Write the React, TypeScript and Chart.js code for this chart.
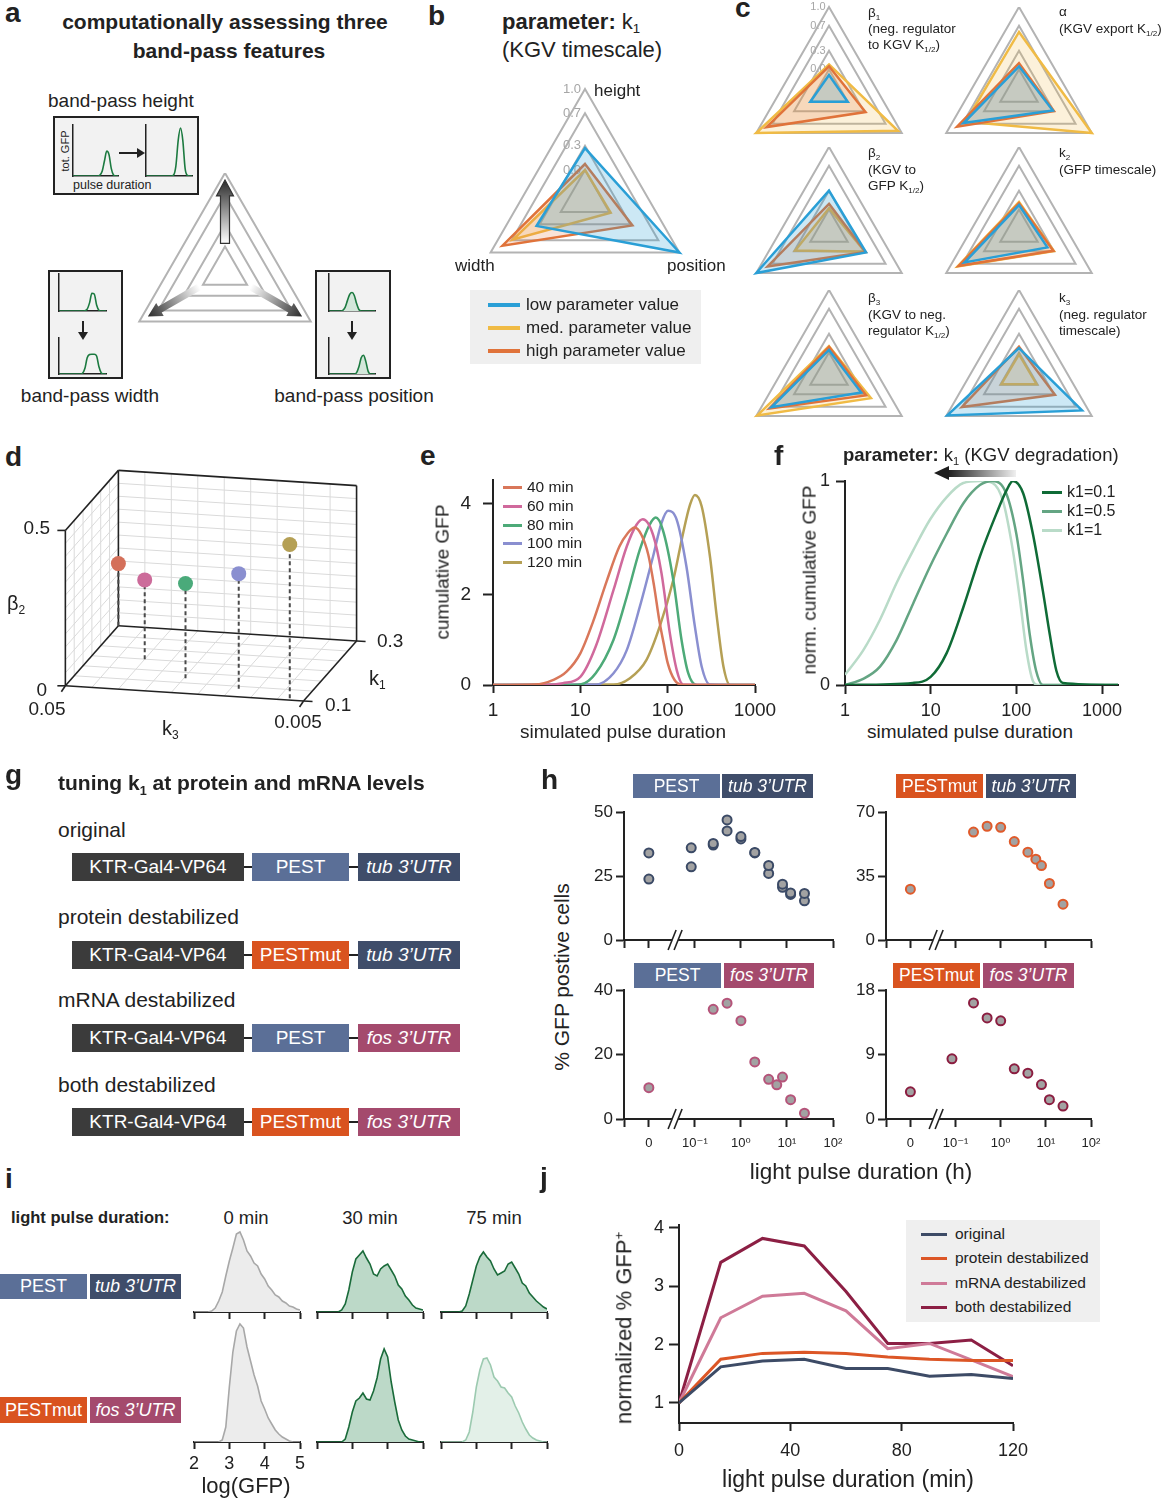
import React, { useEffect, useRef } from 'react';
import { Chart, registerables } from 'chart.js';

Chart.register(...registerables);

const FONT = "'Liberation Sans', Arial, Helvetica, 'DejaVu Sans', sans-serif";
Chart.defaults.font.family = FONT;
Chart.defaults.color = '#222';

/* ================= DATA ================= */
// panel a – mini band-pass sketches
const MINI_X = [0, 0.5, 1, 1.5, 2, 2.5, 3, 3.5, 4, 4.5, 5, 5.5, 6, 6.5, 7, 7.5, 8, 8.5, 9, 9.5, 10];
const MINI_HEIGHT_LOW = [0, 0, 0, 0, 0, 0, 0, 0, 0, 0, 0, 0, 0.02, 0.1, 0.3, 0.49, 0.42, 0.15, 0.02, 0, 0];
const MINI_HEIGHT_HIGH = [0, 0, 0, 0, 0, 0, 0, 0, 0, 0, 0, 0, 0.02, 0.2, 0.7, 0.94, 0.7, 0.15, 0.01, 0, 0];
const MINI_WIDTH_NARROW = [0, 0, 0, 0, 0, 0, 0, 0, 0, 0, 0, 0.01, 0.05, 0.22, 0.48, 0.46, 0.16, 0.02, 0, 0, 0];
const MINI_WIDTH_WIDE = [0, 0, 0, 0, 0, 0, 0, 0, 0, 0, 0.02, 0.15, 0.45, 0.54, 0.55, 0.55, 0.5, 0.2, 0.03, 0, 0];
const MINI_POS_EARLY = [0, 0, 0, 0, 0, 0, 0.02, 0.1, 0.28, 0.45, 0.5, 0.42, 0.2, 0.04, 0, 0, 0, 0, 0, 0, 0];
const MINI_POS_LATE = [0, 0, 0, 0, 0, 0, 0, 0, 0, 0, 0, 0, 0.04, 0.2, 0.45, 0.52, 0.35, 0.08, 0, 0, 0];

// radar panels (axes order: height, position, width)
const RADAR_AXES = ['height', 'position', 'width'];
const RADAR_TICKS = [0, 0.3, 0.7, 1.0];
const B_LOW = [0.27, 1.0, 0.345];
const B_MED = [0.0, 0.02, 0.68];
const B_HIGH = [0.074, 0.33, 0.83];
const BETA1_LOW = [-0.09, 0.0, 0.0];
const BETA1_MED = [0.08, 0.93, 1.0];
const BETA1_HIGH = [0.05, 0.33, 0.81];
const ALPHA_LOW = [0.05, 0.28, 0.68];
const ALPHA_MED = [0.6, 1.0, 0.64];
const ALPHA_HIGH = [0.1, 0.3, 0.8];
const BETA2_LOW = [0.3, 0.34, 1.0];
const BETA2_MED = [0.02, 0.32, 0.28];
const BETA2_HIGH = [0.09, 0.33, 0.79];
const K2_LOW = [0.07, 0.18, 0.66];
const K2_MED = [0.12, 0.3, 0.79];
const K2_HIGH = [0.1, 0.29, 0.77];
const BETA3_LOW = [0.04, 0.25, 0.72];
const BETA3_MED = [0.1, 0.43, 0.98];
const BETA3_HIGH = [0.09, 0.34, 0.76];
const K3_LOW = [0.07, 0.82, 0.98];
const K3_MED = [-0.03, -0.02, -0.02];
const K3_HIGH = [0.09, 0.32, 0.71];

// panel d – 3D stem plot
const D_K3 = [0.05, 0.03, 0.0177, 0.01, 0.0058];
const D_K1 = [0.3, 0.2, 0.148, 0.126, 0.106];
const D_BETA2 = [0.2, 0.255, 0.305, 0.37, 0.495];
const D_COLORS = ['#d4705a', '#cc6b9a', '#4aaa7a', '#8a8fd0', '#b5a055'];

// panel e
const E_LABELS = ['40 min', '60 min', '80 min', '100 min', '120 min'];
const E_COLORS = ['#d9775a', '#d0699c', '#4daa78', '#8a8fd0', '#b5a055'];
const E_X40 = [1, 3, 5, 7, 10, 14, 20, 28, 35, 42, 50, 60, 70, 80, 90, 100, 120, 150, 1000];
const E_Y40 = [0, 0.01, 0.12, 0.3, 0.7, 1.4, 2.29, 3.06, 3.36, 3.48, 3.32, 2.88, 2.18, 1.44, 0.92, 0.49, 0.11, 0, 0];
const E_X60 = [1, 4, 6.3, 10, 15, 24, 34, 44, 52, 68, 85, 106, 127, 150, 1000];
const E_Y60 = [0, 0, 0.04, 0.18, 0.85, 2.1, 3.06, 3.54, 3.66, 3.32, 2.47, 1.14, 0.33, 0.01, 0];
const E_X80 = [1, 7, 10, 15, 24, 34, 48, 62, 73, 88, 116, 144, 172, 215, 1000];
const E_Y80 = [0, 0, 0.01, 0.26, 1.0, 1.95, 2.99, 3.54, 3.7, 3.43, 2.32, 1.0, 0.26, 0, 0];
const E_X100 = [1, 15, 24, 34, 48, 68, 85, 101, 127, 164, 205, 245, 305, 1000];
const E_Y100 = [0, 0.01, 0.26, 0.77, 1.73, 2.84, 3.58, 3.85, 3.65, 2.62, 1.29, 0.41, 0.01, 0];
const E_X120 = [1, 24, 37, 57, 81, 116, 150, 180, 205, 245, 305, 365, 435, 520, 1000];
const E_Y120 = [0, 0.01, 0.15, 0.55, 1.29, 2.32, 3.35, 3.98, 4.2, 3.95, 2.84, 1.51, 0.41, 0, 0];

// panel f
const F_LABELS = ['k1=0.1', 'k1=0.5', 'k1=1'];
const F_COLORS = ['#0f6b36', '#64a583', '#b9dbc8'];
const F_X01 = [1, 6.2, 10, 15.3, 24, 37.5, 58.5, 76, 91, 120, 156, 204, 245, 293, 350, 1535];
const F_Y01 = [0, 0.01, 0.04, 0.155, 0.38, 0.63, 0.84, 0.95, 1.0, 0.94, 0.74, 0.46, 0.25, 0.07, 0.01, 0];
const F_X05 = [1, 1.63, 2.56, 4.0, 6.25, 9.8, 15.3, 24, 37.5, 53, 76, 100, 120, 143, 170, 204, 1535];
const F_Y05 = [0, 0.03, 0.09, 0.22, 0.4, 0.58, 0.74, 0.89, 0.98, 1.0, 0.94, 0.74, 0.51, 0.25, 0.07, 0, 0];
const F_X1 = [1, 1.63, 2.56, 4.0, 6.25, 9.8, 15.3, 24, 37.5, 53, 70, 91, 110, 131, 156, 180, 1535];
const F_Y1 = [0.05, 0.17, 0.32, 0.5, 0.66, 0.81, 0.92, 0.99, 1.0, 0.99, 0.9, 0.66, 0.42, 0.17, 0.02, 0, 0];

// panel h (pulse durations in hours, 0 = dark control)
const H_TICKS = [-2.54, -2, -1, 0, 1, 2];
const H_TICK_LABELS = ['', '0', '10\u207B\u00B9', '10\u2070', '10\u00B9', '10\u00B2'];
const H1_HOURS = [0, 0.0833, 0.25, 0.5, 1, 2, 4, 8, 12, 24];
const H1_REP_A = [34, 36, 37.7, 46.9, 40.4, 34.2, 29.1, 21.8, 18.4, 18.2];
const H1_REP_B = [23.8, 28.6, 37.1, 42.6, 39.5, 34.0, 26.0, 20.6, 17.8, 15.3];
const H2_HOURS = [0, 0.25, 0.5, 1, 2, 4, 6, 8, 12, 24];
const H2_VALUES = [27.8, 59, 62.2, 61.6, 53.8, 48, 44.2, 40.7, 30.9, 19.6];
const H3_HOURS = [0, 0.25, 0.5, 1, 2, 4, 6, 8, 12, 24];
const H3_VALUES = [9.7, 34, 35.9, 30.5, 17.7, 12.3, 10.6, 13, 6, 1.8];
const H4_HOURS = [0, 0.0833, 0.25, 0.5, 1, 2, 4, 8, 12, 24];
const H4_VALUES = [3.8, 8.4, 16.2, 14.1, 13.7, 7, 6.4, 4.8, 2.7, 1.8];

// panel i – histograms of log(GFP)
const HIST_X = [2.0, 2.1, 2.2, 2.3, 2.4, 2.5, 2.6, 2.7, 2.8, 2.9, 3.0, 3.1, 3.2, 3.3, 3.4, 3.5, 3.6, 3.7, 3.8, 3.9, 4.0, 4.1, 4.2, 4.3, 4.4, 4.5, 4.6, 4.7, 4.8, 4.9, 5.0];
const HIST_PEST_0 = [0, 0, 0, 0, 0, 1, 4, 11, 20, 36, 51, 64, 78, 80, 72, 61, 56, 49, 46, 38, 33, 26, 22, 17, 15, 11, 9, 6, 5, 3, 2];
const HIST_PEST_30 = [0, 0, 0, 0, 0, 0, 0, 2, 8, 22, 40, 53, 57, 61, 54, 48, 38, 36, 43, 46, 48, 42, 36, 27, 23, 16, 12, 7, 4, 3, 2];
const HIST_PEST_75 = [0, 0, 0, 0, 0, 0, 1, 6, 18, 32, 46, 55, 60, 55, 51, 43, 37, 39, 41, 48, 50, 44, 38, 29, 26, 19, 15, 11, 8, 5, 3];
const HIST_MUT_0 = [0, 0, 0, 0, 0, 0, 0, 0, 2, 15, 55, 90, 111, 118, 114, 95, 81, 67, 56, 41, 33, 24, 18, 12, 8, 5, 3, 1, 0, 0, 0];
const HIST_MUT_30 = [0, 0, 0, 0, 0, 0, 0, 0, 3, 15, 30, 41, 44, 49, 43, 42, 51, 64, 83, 93, 85, 60, 40, 22, 12, 6, 3, 2, 1, 0, 0];
const HIST_MUT_75 = [0, 0, 0, 0, 0, 0, 0, 2, 10, 30, 55, 72, 83, 84, 77, 65, 61, 55, 54, 49, 45, 36, 29, 20, 13, 7, 4, 2, 1, 0, 0];

// panel j
const J_X = [0, 15, 30, 45, 60, 75, 90, 105, 120];
const J_ORIGINAL = [1, 1.62, 1.72, 1.75, 1.59, 1.59, 1.46, 1.49, 1.42];
const J_PROTEIN = [1, 1.75, 1.85, 1.87, 1.85, 1.79, 1.75, 1.73, 1.73];
const J_MRNA = [1, 2.46, 2.83, 2.88, 2.58, 1.93, 2.02, 1.74, 1.45];
const J_BOTH = [1, 3.41, 3.82, 3.69, 2.91, 2.02, 2.02, 2.08, 1.64];
const J_LABELS = ['original', 'protein destabilized', 'mRNA destabilized', 'both destabilized'];
const J_COLORS = ['#3d4b66', '#dc5626', '#cf7a98', '#8c1f44'];

/* ================= COLOURS ================= */
const C_PEST = '#5b6f97';
const C_TUB = '#3f4d6a';
const C_MUT = '#d9531f';
const C_FOS = '#a44a6d';
const C_KTR = '#3b3b3b';
const BLUE = '#2a9fd6';
const YELLOW = '#f0bb45';
const ORANGE = '#e0733a';

/* ================= HELPERS ================= */
function base(extra: any) {
  return {
    responsive: false,
    animation: false,
    devicePixelRatio: 1,
    events: [],
    ...extra,
    plugins: { legend: { display: false }, tooltip: { enabled: false }, ...(extra.plugins || {}) },
  };
}

function cax(o: any) {
  return {
    type: o.type || 'linear',
    position: o.pos,
    min: o.min,
    max: o.max,
    afterBuildTicks: (s: any) => { s.ticks = o.ticks.map((v: number) => ({ value: v })); },
    afterFit: (s: any) => { if (o.pos === 'bottom') s.height = o.fix; else s.width = o.fix; },
    grid: { display: true, drawOnChartArea: false, drawTicks: true, tickLength: o.tl, tickWidth: 2, tickColor: '#222', color: '#222' },
    border: { display: true, color: '#222', width: 2 },
    ticks: {
      display: o.show !== false,
      padding: o.pad,
      color: '#222',
      font: { size: o.fs, family: FONT },
      autoSkip: false,
      maxRotation: 0,
      minRotation: 0,
      callback: (v: any, i: number) => (o.labels ? o.labels[i] : String(v)),
    },
  };
}

function Canvas({ x, y, w, h, cfg }: any) {
  const ref = useRef<HTMLCanvasElement | null>(null);
  useEffect(() => {
    const chart = new Chart(ref.current as HTMLCanvasElement, cfg());
    return () => chart.destroy();
  }, []);
  return <canvas ref={ref} width={w} height={h} style={{ position: 'absolute', left: x, top: y, width: w, height: h }} />;
}

const T = ({ x, y, s = 16, b = false, it = false, c = '#222', a = 'l', children }: any) => (
  <div
    style={{
      position: 'absolute', left: x, top: y - s * 0.6, fontSize: s, lineHeight: `${s * 1.2}px`,
      fontWeight: b ? 700 : 400, fontStyle: it ? 'italic' : 'normal', color: c, whiteSpace: 'nowrap',
      transform: a === 'c' ? 'translateX(-50%)' : a === 'r' ? 'translateX(-100%)' : undefined,
    }}
  >
    {children}
  </div>
);

const VT = ({ x, y, s = 18, children }: any) => (
  <div style={{ position: 'absolute', left: x, top: y, fontSize: s, lineHeight: `${s * 1.2}px`, whiteSpace: 'nowrap', transform: 'translate(-50%,-50%) rotate(-90deg)' }}>
    {children}
  </div>
);

const Sub = ({ children }: any) => <span style={{ fontSize: '0.6em', position: 'relative', top: '0.35em' }}>{children}</span>;
const Sup = ({ children }: any) => <span style={{ fontSize: '0.6em', position: 'relative', top: '-0.6em' }}>{children}</span>;

const Box = ({ x, y, w, h, bg, it = false, s = 17, children }: any) => (
  <div style={{ position: 'absolute', left: x, top: y, width: w, height: h, background: bg, color: '#fff', fontSize: s, lineHeight: `${h}px`, textAlign: 'center', fontStyle: it ? 'italic' : 'normal', whiteSpace: 'nowrap', overflow: 'hidden' }}>
    {children}
  </div>
);

const Line = ({ x, y, w, h, c }: any) => <div style={{ position: 'absolute', left: x, top: y, width: w, height: h, background: c }} />;

/* ================= CHART CONFIGS ================= */
function miniCfg(ys: number[], fill: boolean) {
  return {
    type: 'line',
    data: { datasets: [{ data: MINI_X.map((x, i) => ({ x, y: ys[i] })), borderColor: '#1c7a40', borderWidth: 1.6, pointRadius: 0, cubicInterpolationMode: 'monotone', fill: fill ? 'origin' : false, backgroundColor: '#d3e7da' }] },
    options: base({
      layout: { padding: { left: 1, top: 2, right: 2, bottom: 1 } },
      scales: {
        x: { type: 'linear', min: 0, max: 10, afterFit: (s: any) => { s.height = 1; }, grid: { display: false }, ticks: { display: false }, border: { display: true, color: '#222', width: 1.5 } },
        y: { type: 'linear', min: 0, max: 1, afterFit: (s: any) => { s.width = 1; }, grid: { display: false }, ticks: { display: false }, border: { display: true, color: '#222', width: 1.5 } },
      },
    }),
  };
}

const arrowsPlugin = {
  id: 'gradArrows',
  afterDraw(chart: any) {
    const s = chart.scales.r;
    const ctx = chart.ctx;
    const R = s.drawingArea;
    const specs = [
      { i: 0, r0: 0.29, r1: 0.93, sw: 9, hw: 17, hl: 16, stroke: true },
      { i: 1, r0: 0.3, r1: 0.9, sw: 7, hw: 15, hl: 14, stroke: false },
      { i: 2, r0: 0.3, r1: 0.9, sw: 7, hw: 15, hl: 14, stroke: false },
    ];
    ctx.save();
    for (const a of specs) {
      const p0 = s.getPointPosition(a.i, a.r0 * R);
      const p1 = s.getPointPosition(a.i, a.r1 * R);
      const dx = p1.x - p0.x, dy = p1.y - p0.y;
      const len = Math.hypot(dx, dy);
      const ux = dx / len, uy = dy / len;
      const nx = -uy, ny = ux;
      const bx = p1.x - ux * a.hl, by = p1.y - uy * a.hl;
      ctx.beginPath();
      ctx.moveTo(p0.x + nx * a.sw / 2, p0.y + ny * a.sw / 2);
      ctx.lineTo(bx + nx * a.sw / 2, by + ny * a.sw / 2);
      ctx.lineTo(bx + nx * a.hw / 2, by + ny * a.hw / 2);
      ctx.lineTo(p1.x, p1.y);
      ctx.lineTo(bx - nx * a.hw / 2, by - ny * a.hw / 2);
      ctx.lineTo(bx - nx * a.sw / 2, by - ny * a.sw / 2);
      ctx.lineTo(p0.x - nx * a.sw / 2, p0.y - ny * a.sw / 2);
      ctx.closePath();
      const g = ctx.createLinearGradient(p0.x, p0.y, p1.x, p1.y);
      g.addColorStop(0, '#ffffff');
      g.addColorStop(1, '#2a2a2a');
      ctx.fillStyle = g;
      ctx.fill();
      if (a.stroke) { ctx.strokeStyle = '#333'; ctx.lineWidth = 1.2; ctx.stroke(); }
    }
    ctx.restore();
  },
};

function radarScale(showTicks: boolean, tickFont: number) {
  return {
    r: {
      min: -0.346,
      max: 1,
      afterBuildTicks: (s: any) => { s.ticks = RADAR_TICKS.map((v) => ({ value: v })); },
      ticks: { display: showTicks, showLabelBackdrop: false, color: '#a6a6a6', font: { size: tickFont, family: FONT }, callback: (v: any) => Number(v).toFixed(1) + '\u2002\u2002\u2002\u2002' },
      grid: { color: '#b3b3b3', lineWidth: 2 },
      angleLines: { display: false },
      pointLabels: { display: false },
    },
  };
}

function radarDs(d: number[], line: string, fill: string) {
  return { data: d, borderColor: line, backgroundColor: fill, borderWidth: 2.5, pointRadius: 0, fill: 'start' };
}

function radarCfg(low: number[], med: number[], high: number[], showTicks: boolean, tickFont: number) {
  return {
    type: 'radar',
    data: {
      labels: RADAR_AXES,
      datasets: [
        radarDs(low, BLUE, 'rgba(42,159,214,0.24)'),
        radarDs(high, ORANGE, 'rgba(224,115,58,0.2)'),
        radarDs(med, YELLOW, 'rgba(240,187,69,0.2)'),
      ],
    },
    options: base({ scales: radarScale(showTicks, tickFont) }),
  };
}

function radarACfg() {
  return {
    type: 'radar',
    data: { labels: ['', '', ''], datasets: [] },
    options: base({ scales: radarScale(false, 12) }),
    plugins: [arrowsPlugin],
  };
}

// panel d projection (layout constants of the drawn box)
const D_O = [60, 250];
const D_U = [247, 16];
const D_V = [55, -63];
const D_W = [0, -163];
function d3(u: number, v: number, w: number) {
  return { x: D_O[0] + u * D_U[0] + v * D_V[0] + w * D_W[0], y: D_O[1] + u * D_U[1] + v * D_V[1] + w * D_W[1] };
}
const uK3 = (k: number) => Math.log10(0.05 / k);
const vK1 = (k: number) => (k - 0.1) / 0.2;
const wB2 = (b: number) => b / 0.5;

const boxPlugin = {
  id: 'box3d',
  beforeDatasetsDraw(chart: any) {
    const ctx = chart.ctx, xs = chart.scales.x, ys = chart.scales.y;
    const P = (u: number, v: number, w: number) => { const p = d3(u, v, w); return [xs.getPixelForValue(p.x), ys.getPixelForValue(p.y)]; };
    const seg = (a: number[], b: number[]) => {
      const p = P(a[0], a[1], a[2]), q = P(b[0], b[1], b[2]);
      ctx.beginPath(); ctx.moveTo(p[0], p[1]); ctx.lineTo(q[0], q[1]); ctx.stroke();
    };
    ctx.save();
    ctx.strokeStyle = '#dadada';
    ctx.lineWidth = 1;
    for (let i = 1; i < 9; i++) { seg([i / 9, 1, 0], [i / 9, 1, 1]); seg([i / 9, 0, 0], [i / 9, 1, 0]); }
    for (let j = 1; j < 12; j++) { seg([0, 1, j / 12], [1, 1, j / 12]); seg([0, 0, j / 12], [0, 1, j / 12]); }
    for (let k = 1; k < 6; k++) { seg([0, k / 6, 0], [0, k / 6, 1]); seg([0, k / 6, 0], [1, k / 6, 0]); }
    ctx.strokeStyle = '#222';
    ctx.lineWidth = 1.6;
    const edges = [
      [[0, 0, 0], [1, 0, 0]], [[1, 0, 0], [1, 1, 0]], [[0, 0, 0], [0, 1, 0]], [[0, 1, 0], [1, 1, 0]],
      [[0, 0, 0], [0, 0, 1]], [[0, 0, 1], [0, 1, 1]], [[0, 1, 0], [0, 1, 1]], [[0, 1, 1], [1, 1, 1]], [[1, 1, 0], [1, 1, 1]],
    ];
    edges.forEach((e) => seg(e[0], e[1]));
    const tick = (u: number, v: number, w: number, dx: number, dy: number) => {
      const p = P(u, v, w);
      ctx.beginPath(); ctx.moveTo(p[0], p[1]); ctx.lineTo(p[0] + dx, p[1] + dy); ctx.stroke();
    };
    tick(0, 0, 1, -8, 0); tick(0, 0, 0, -8, 0);
    tick(1, 0, 0, 9, 0.5); tick(1, 1, 0, 9, 0.5);
    tick(0, 0, 0, -4, 6); tick(1, 0, 0, -4, 6);
    ctx.restore();
  },
};

function dCfg() {
  const pts = D_K3.map((k, i) => d3(uK3(k), vK1(D_K1[i]), wB2(D_BETA2[i])));
  return {
    type: 'scatter',
    data: {
      datasets: [
        { data: pts, pointRadius: 7.5, pointBackgroundColor: D_COLORS, pointBorderColor: D_COLORS, pointBorderWidth: 0, showLine: false, clip: false },
        ...D_K3.map((k, i) => ({ data: [d3(uK3(k), vK1(D_K1[i]), 0), pts[i]], showLine: true, borderColor: '#4a4a4a', borderWidth: 2, borderDash: [4, 3], pointRadius: 0, clip: false })),
      ],
    },
    options: base({
      layout: { padding: 0 },
      scales: {
        x: { type: 'linear', display: false, min: 0, max: 420 },
        y: { type: 'linear', display: false, min: 0, max: 320, reverse: true },
      },
    }),
    plugins: [boxPlugin],
  };
}

function lineDs(xs: number[], ys: number[], color: string, width: number, smooth: boolean) {
  return { data: xs.map((x, i) => ({ x, y: ys[i] })), borderColor: color, borderWidth: width, pointRadius: 0, fill: false, cubicInterpolationMode: smooth ? 'monotone' : 'default', tension: 0 };
}

function eCfg() {
  const xs = [E_X40, E_X60, E_X80, E_X100, E_X120];
  const ys = [E_Y40, E_Y60, E_Y80, E_Y100, E_Y120];
  return {
    type: 'line',
    data: { datasets: xs.map((x, i) => lineDs(x, ys[i], E_COLORS[i], 2.5, true)) },
    options: base({
      layout: { padding: { top: 25, right: 38 } },
      scales: {
        x: cax({ type: 'logarithmic', pos: 'bottom', min: 1, max: 1000, ticks: [1, 10, 100, 1000], fix: 35, tl: 8, pad: 6, fs: 19 }),
        y: cax({ pos: 'left', min: 0, max: 4.53, ticks: [0, 2, 4], fix: 40, tl: 10, pad: 12, fs: 19 }),
      },
    }),
  };
}

function fCfg() {
  const xs = [F_X01, F_X05, F_X1];
  const ys = [F_Y01, F_Y05, F_Y1];
  return {
    type: 'line',
    data: { datasets: xs.map((x, i) => lineDs(x, ys[i], F_COLORS[i], 2.5, true)) },
    options: base({
      layout: { padding: { top: 18, right: 27 } },
      scales: {
        x: cax({ type: 'logarithmic', pos: 'bottom', min: 1, max: 1535, ticks: [1, 10, 100, 1000], fix: 35, tl: 9, pad: 6, fs: 18 }),
        y: cax({ pos: 'left', min: 0, max: 1, ticks: [0, 1], fix: 30, tl: 9, pad: 6, fs: 18 }),
      },
    }),
  };
}

function jCfg() {
  const ys = [J_ORIGINAL, J_PROTEIN, J_MRNA, J_BOTH];
  return {
    type: 'line',
    data: { datasets: ys.map((y, i) => lineDs(J_X, y, J_COLORS[i], 3, false)) },
    options: base({
      layout: { padding: { top: 17, right: 30 } },
      scales: {
        x: cax({ pos: 'bottom', min: 0, max: 120, ticks: [0, 40, 80, 120], fix: 47, tl: 8, pad: 9, fs: 18 }),
        y: cax({ pos: 'left', min: 0.657, max: 4.05, ticks: [1, 2, 3, 4], fix: 50, tl: 10, pad: 5, fs: 18 }),
      },
    }),
  };
}

const BREAK_AT = -1.43;
const breakPlugin = {
  id: 'axisBreak',
  afterDraw(chart: any) {
    const xs = chart.scales.x;
    const ctx = chart.ctx;
    const px = xs.getPixelForValue(BREAK_AT);
    const py = chart.chartArea.bottom;
    ctx.save();
    ctx.fillStyle = '#fff';
    ctx.fillRect(px - 3, py - 3, 6, 7);
    ctx.strokeStyle = '#222';
    ctx.lineWidth = 1.6;
    for (const dx of [-3, 3]) {
      ctx.beginPath(); ctx.moveTo(px + dx - 4, py + 10); ctx.lineTo(px + dx + 4, py - 10); ctx.stroke();
    }
    ctx.restore();
  },
};

const hpos = (h: number) => (h === 0 ? -2 : Math.log10(h));

function hCfg(hours: number[], series: number[][], color: string, ymax: number, yt: number[], xh: number, showX: boolean) {
  return {
    type: 'scatter',
    data: {
      datasets: series.map((vals) => ({
        data: hours.map((h, i) => ({ x: hpos(h), y: vals[i] })),
        showLine: false, pointRadius: 4.5, pointBackgroundColor: '#a2a2a2', pointBorderColor: color, pointBorderWidth: 2, clip: false,
      })),
    },
    options: base({
      layout: { padding: { top: 14, right: 20 } },
      scales: {
        x: cax({ pos: 'bottom', min: -2.54, max: 2, ticks: H_TICKS, labels: H_TICK_LABELS, fix: xh, tl: 8, pad: 9, fs: 13, show: showX }),
        y: cax({ pos: 'left', min: 0, max: ymax, ticks: yt, fix: 30, tl: 8, pad: 3, fs: 17 }),
      },
    }),
    plugins: [breakPlugin],
  };
}

function histCfg(ys: number[], line: string, fill: string, ymax: number, xh: number, showLabels: boolean) {
  return {
    type: 'line',
    data: { datasets: [{ data: HIST_X.map((x, i) => ({ x, y: ys[i] })), borderColor: line, backgroundColor: fill, borderWidth: 1.6, pointRadius: 0, fill: 'origin', tension: 0 }] },
    options: base({
      layout: { padding: { left: 10, right: 10, top: 2, bottom: 0 } },
      scales: {
        x: cax({ pos: 'bottom', min: 2, max: 5, ticks: [2, 3, 4, 5], fix: xh, tl: 7, pad: 4, fs: 18, show: showLabels }),
        y: { type: 'linear', display: false, min: 0, max: ymax },
      },
    }),
  };
}

/* ================= APP ================= */
const G_ROWS = ['original', 'protein destabilized', 'mRNA destabilized', 'both destabilized'];
const G_MID = ['PEST', 'PESTmut', 'PEST', 'PESTmut'];
const G_UTR = ['tub', 'tub', 'fos', 'fos'];
const G_LABEL_Y = [830, 917, 1000, 1085];
const G_BOX_Y = [853, 941, 1024, 1108];

const HIST_COLS = [194, 317, 441];
const HIST_W = 106;

export default function App() {
  return (
    <div style={{ position: 'absolute', left: 0, top: 0, width: 1163, height: 1500, background: '#fff', overflow: 'hidden', fontFamily: FONT, color: '#222' }}>
      {/* ---------- panel a ---------- */}
      <T x={5} y={12.5} s={28} b>a</T>
      <T x={225} y={22} s={21} b a="c">computationally assessing three</T>
      <T x={229} y={51} s={21} b a="c">band-pass features</T>
      <T x={48} y={101} s={19}>band-pass height</T>
      <div style={{ position: 'absolute', left: 53, top: 116, width: 146, height: 79, background: '#f2f2f2', border: '2px solid #222', boxSizing: 'border-box' }} />
      <div style={{ position: 'absolute', left: 48, top: 270, width: 75, height: 109, background: '#f2f2f2', border: '2px solid #222', boxSizing: 'border-box' }} />
      <div style={{ position: 'absolute', left: 315, top: 270, width: 76, height: 109, background: '#f2f2f2', border: '2px solid #222', boxSizing: 'border-box' }} />
      <VT x={66} y={151} s={11}>tot. GFP</VT>
      <T x={73} y={185} s={12.5}>pulse duration</T>
      <Canvas x={71} y={123} w={49} h={55} cfg={() => miniCfg(MINI_HEIGHT_LOW, false)} />
      <Canvas x={144} y={123} w={50} h={55} cfg={() => miniCfg(MINI_HEIGHT_HIGH, false)} />
      <Canvas x={57} y={272} w={51} h={41} cfg={() => miniCfg(MINI_WIDTH_NARROW, false)} />
      <Canvas x={57} y={336} w={51} h={40} cfg={() => miniCfg(MINI_WIDTH_WIDE, false)} />
      <Canvas x={327} y={272} w={50} h={41} cfg={() => miniCfg(MINI_POS_EARLY, true)} />
      <Canvas x={327} y={336} w={50} h={40} cfg={() => miniCfg(MINI_POS_LATE, true)} />
      <Line x={119} y={152} w={19} h={2} c="#222" />
      <div style={{ position: 'absolute', left: 137, top: 148, width: 0, height: 0, borderTop: '5px solid transparent', borderBottom: '5px solid transparent', borderLeft: '8px solid #222' }} />
      <Line x={82} y={321} w={2} h={12} c="#222" />
      <div style={{ position: 'absolute', left: 78, top: 332, width: 0, height: 0, borderLeft: '5px solid transparent', borderRight: '5px solid transparent', borderTop: '8px solid #222' }} />
      <Line x={351} y={321} w={2} h={12} c="#222" />
      <div style={{ position: 'absolute', left: 347, top: 332, width: 0, height: 0, borderLeft: '5px solid transparent', borderRight: '5px solid transparent', borderTop: '8px solid #222' }} />
      <Canvas x={126} y={173} w={198} h={198} cfg={radarACfg} />
      <T x={90} y={396} s={19} a="c">band-pass width</T>
      <T x={354} y={396} s={19} a="c">band-pass position</T>

      {/* ---------- panel b ---------- */}
      <T x={428} y={16} s={28} b>b</T>
      <T x={502} y={22} s={22}><b>parameter:</b> k<Sub>1</Sub></T>
      <T x={502} y={50} s={22}>(KGV timescale)</T>
      <Canvas x={468} y={81} w={235} h={235} cfg={() => radarCfg(B_LOW, B_MED, B_HIGH, true, 13)} />
      <T x={594} y={91} s={17}>height</T>
      <T x={455} y={266} s={17}>width</T>
      <T x={667} y={266} s={17}>position</T>
      <div style={{ position: 'absolute', left: 470, top: 290, width: 231, height: 74, background: '#efefef' }} />
      {[['low parameter value', BLUE], ['med. parameter value', YELLOW], ['high parameter value', ORANGE]].map((it, i) => (
        <React.Fragment key={'bl' + i}>
          <Line x={488} y={[305, 328, 351][i] - 2} w={32} h={4} c={it[1]} />
          <T x={526} y={[305, 328, 351][i]} s={17}>{it[0]}</T>
        </React.Fragment>
      ))}

      {/* ---------- panel c ---------- */}
      <T x={735} y={8} s={28} b>c</T>
      <Canvas x={738} y={0} w={183} h={183} cfg={() => radarCfg(BETA1_LOW, BETA1_MED, BETA1_HIGH, true, 11)} />
      <Canvas x={935} y={7} w={168} h={168} cfg={() => radarCfg(ALPHA_LOW, ALPHA_MED, ALPHA_HIGH, false, 11)} />
      <Canvas x={745} y={147} w={168} h={168} cfg={() => radarCfg(BETA2_LOW, BETA2_MED, BETA2_HIGH, false, 11)} />
      <Canvas x={935} y={147} w={168} h={168} cfg={() => radarCfg(K2_LOW, K2_MED, K2_HIGH, false, 11)} />
      <Canvas x={745} y={290} w={168} h={168} cfg={() => radarCfg(BETA3_LOW, BETA3_MED, BETA3_HIGH, false, 11)} />
      <Canvas x={935} y={290} w={168} h={168} cfg={() => radarCfg(K3_LOW, K3_MED, K3_HIGH, false, 11)} />
      <T x={868} y={13} s={13.5}>β<Sub>1</Sub></T>
      <T x={868} y={29} s={13.5}>(neg. regulator</T>
      <T x={868} y={45} s={13.5}>to KGV K<Sub>1/2</Sub>)</T>
      <T x={1059} y={12} s={13.5}>α</T>
      <T x={1059} y={29} s={13.5}>(KGV export K<Sub>1/2</Sub>)</T>
      <T x={868} y={153} s={13.5}>β<Sub>2</Sub></T>
      <T x={868} y={170} s={13.5}>(KGV to</T>
      <T x={868} y={186} s={13.5}>GFP K<Sub>1/2</Sub>)</T>
      <T x={1059} y={153} s={13.5}>k<Sub>2</Sub></T>
      <T x={1059} y={170} s={13.5}>(GFP timescale)</T>
      <T x={868} y={298} s={13.5}>β<Sub>3</Sub></T>
      <T x={868} y={315} s={13.5}>(KGV to neg.</T>
      <T x={868} y={331} s={13.5}>regulator K<Sub>1/2</Sub>)</T>
      <T x={1059} y={298} s={13.5}>k<Sub>3</Sub></T>
      <T x={1059} y={315} s={13.5}>(neg. regulator</T>
      <T x={1059} y={331} s={13.5}>timescale)</T>

      {/* ---------- panel d ---------- */}
      <T x={5} y={457} s={28} b>d</T>
      <Canvas x={0} y={440} w={420} h={320} cfg={dCfg} />
      <T x={50} y={528} s={19} a="r">0.5</T>
      <T x={47} y={690} s={19} a="r">0</T>
      <T x={7} y={603} s={20}>β<Sub>2</Sub></T>
      <T x={47} y={709} s={19} a="c">0.05</T>
      <T x={162} y={728} s={20}>k<Sub>3</Sub></T>
      <T x={298} y={722} s={19} a="c">0.005</T>
      <T x={325} y={705} s={19}>0.1</T>
      <T x={377} y={641} s={19}>0.3</T>
      <T x={369} y={678} s={20}>k<Sub>1</Sub></T>

      {/* ---------- panel e ---------- */}
      <T x={420} y={455.5} s={28} b>e</T>
      <Canvas x={453} y={455} w={340} h={265} cfg={eCfg} />
      <VT x={443} y={572} s={19}>cumulative GFP</VT>
      <T x={623} y={732} s={19} a="c">simulated pulse duration</T>
      {E_LABELS.map((l, i) => (
        <React.Fragment key={'el' + i}>
          <Line x={503} y={[487, 506, 525, 543, 562][i] - 1} w={19} h={2.5} c={E_COLORS[i]} />
          <T x={527} y={[487, 506, 525, 543, 562][i]} s={15.5}>{l}</T>
        </React.Fragment>
      ))}

      {/* ---------- panel f ---------- */}
      <T x={774} y={456} s={28} b>f</T>
      <Canvas x={815} y={463} w={330} h={257} cfg={fCfg} />
      <T x={843} y={455} s={18.5}><b>parameter:</b> k<Sub>1</Sub> (KGV degradation)</T>
      <div style={{ position: 'absolute', left: 948, top: 470, width: 68, height: 7, background: 'linear-gradient(to right, #1e1e1e, #f0f0f0)' }} />
      <div style={{ position: 'absolute', left: 934, top: 466, width: 0, height: 0, borderTop: '7.5px solid transparent', borderBottom: '7.5px solid transparent', borderRight: '15px solid #1e1e1e' }} />
      <VT x={810} y={580} s={19}>norm. cumulative GFP</VT>
      <T x={970} y={732} s={19} a="c">simulated pulse duration</T>
      {F_LABELS.map((l, i) => (
        <React.Fragment key={'fl' + i}>
          <Line x={1042} y={[492, 511, 530][i] - 1.5} w={20} h={3} c={F_COLORS[i]} />
          <T x={1067} y={[492, 511, 530][i]} s={16}>{l}</T>
        </React.Fragment>
      ))}

      {/* ---------- panel g ---------- */}
      <T x={5} y={775} s={28} b>g</T>
      <T x={58} y={783} s={21} b>tuning k<Sub>1</Sub> at protein and mRNA levels</T>
      {G_ROWS.map((r, i) => (
        <React.Fragment key={'g' + i}>
          <T x={58} y={G_LABEL_Y[i]} s={21}>{r}</T>
          <Box x={72} y={G_BOX_Y[i]} w={172} h={28} bg={C_KTR} s={19}>KTR-Gal4-VP64</Box>
          <Line x={244} y={G_BOX_Y[i] + 13} w={8} h={2} c="#222" />
          <Box x={252} y={G_BOX_Y[i]} w={97} h={28} bg={G_MID[i] === 'PEST' ? C_PEST : C_MUT} s={19}>{G_MID[i]}</Box>
          <Line x={349} y={G_BOX_Y[i] + 13} w={9} h={2} c="#222" />
          <Box x={358} y={G_BOX_Y[i]} w={102} h={28} bg={G_UTR[i] === 'tub' ? C_TUB : C_FOS} s={19} it>{G_UTR[i]} 3’UTR</Box>
        </React.Fragment>
      ))}

      {/* ---------- panel h ---------- */}
      <T x={541} y={780} s={28} b>h</T>
      <Box x={633} y={774} w={87} h={24} bg={C_PEST} s={17.5}>PEST</Box>
      <Box x={722} y={774} w={91} h={24} bg={C_TUB} s={17.5} it>tub 3’UTR</Box>
      <Box x={896} y={774} w={87} h={24} bg={C_MUT} s={17.5}>PESTmut</Box>
      <Box x={986} y={774} w={90} h={24} bg={C_TUB} s={17.5} it>tub 3’UTR</Box>
      <Box x={634} y={963} w={87} h={25} bg={C_PEST} s={17.5}>PEST</Box>
      <Box x={724} y={963} w={90} h={25} bg={C_FOS} s={17.5} it>fos 3’UTR</Box>
      <Box x={893} y={963} w={87} h={25} bg={C_MUT} s={17.5}>PESTmut</Box>
      <Box x={983} y={963} w={91} h={25} bg={C_FOS} s={17.5} it>fos 3’UTR</Box>
      <Canvas x={594} y={798} w={259} h={157} cfg={() => hCfg(H1_HOURS, [H1_REP_A, H1_REP_B], '#3b4a66', 50, [0, 25, 50], 15, false)} />
      <Canvas x={856} y={798} w={255} h={157} cfg={() => hCfg(H2_HOURS, [H2_VALUES], '#e05a2a', 70, [0, 35, 70], 15, false)} />
      <Canvas x={594} y={976} w={259} h={184} cfg={() => hCfg(H3_HOURS, [H3_VALUES], '#b5547a', 40, [0, 20, 40], 41, true)} />
      <Canvas x={856} y={976} w={255} h={184} cfg={() => hCfg(H4_HOURS, [H4_VALUES], '#8b1d40', 18, [0, 9, 18], 41, true)} />
      <VT x={562} y={977} s={21}>% GFP postive cells</VT>
      <T x={861} y={1171} s={22.5} a="c">light pulse duration (h)</T>

      {/* ---------- panel i ---------- */}
      <T x={5} y={1179} s={28} b>i</T>
      <T x={11} y={1218} s={16.5} b>light pulse duration:</T>
      <T x={246} y={1218} s={18.5} a="c">0 min</T>
      <T x={370} y={1218} s={18.5} a="c">30 min</T>
      <T x={494} y={1218} s={18.5} a="c">75 min</T>
      <Box x={0} y={1274} w={87} h={25} bg={C_PEST} s={18}>PEST</Box>
      <Box x={90} y={1274} w={91} h={25} bg={C_TUB} s={18} it>tub 3’UTR</Box>
      <Box x={0} y={1397} w={87} h={26} bg={C_MUT} s={18}>PESTmut</Box>
      <Box x={90} y={1397} w={91} h={26} bg={C_FOS} s={18} it>fos 3’UTR</Box>
      <Canvas x={HIST_COLS[0] - 10} y={1220} w={HIST_W + 20} h={101} cfg={() => histCfg(HIST_PEST_0, '#a8a8a8', '#ececec', 90, 9, false)} />
      <Canvas x={HIST_COLS[1] - 10} y={1220} w={HIST_W + 20} h={101} cfg={() => histCfg(HIST_PEST_30, '#1a6b3a', '#bcd9c8', 90, 9, false)} />
      <Canvas x={HIST_COLS[2] - 10} y={1220} w={HIST_W + 20} h={101} cfg={() => histCfg(HIST_PEST_75, '#1a6b3a', '#bcd9c8', 90, 9, false)} />
      <Canvas x={HIST_COLS[0] - 10} y={1315} w={HIST_W + 20} h={167} cfg={() => histCfg(HIST_MUT_0, '#a8a8a8', '#ececec', 125, 40, true)} />
      <Canvas x={HIST_COLS[1] - 10} y={1315} w={HIST_W + 20} h={136} cfg={() => histCfg(HIST_MUT_30, '#1a6b3a', '#bcd9c8', 125, 9, false)} />
      <Canvas x={HIST_COLS[2] - 10} y={1315} w={HIST_W + 20} h={136} cfg={() => histCfg(HIST_MUT_75, '#9ccab0', '#e3f0e8', 125, 9, false)} />
      <T x={246} y={1486} s={22} a="c">log(GFP)</T>

      {/* ---------- panel j ---------- */}
      <T x={540} y={1178} s={28} b>j</T>
      <Canvas x={629} y={1208} w={414} h={262} cfg={jCfg} />
      <div style={{ position: 'absolute', left: 906, top: 1220, width: 194, height: 102, background: '#efefef' }} />
      {J_LABELS.map((l, i) => (
        <React.Fragment key={'jl' + i}>
          <Line x={921} y={[1234, 1258, 1283, 1307][i] - 1.5} w={26} h={3.5} c={J_COLORS[i]} />
          <T x={955} y={[1234, 1258, 1283, 1307][i]} s={15.5}>{l}</T>
        </React.Fragment>
      ))}
      <VT x={626} y={1328} s={22}>normalized % GFP<Sup>+</Sup></VT>
      <T x={848} y={1480} s={23} a="c">light pulse duration (min)</T>
    </div>
  );
}
